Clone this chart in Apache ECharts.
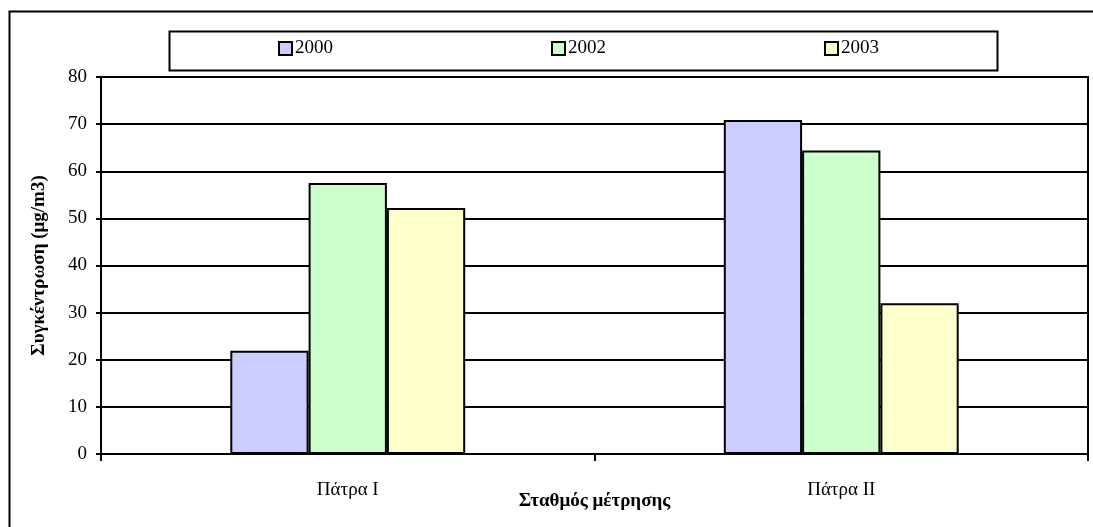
<!DOCTYPE html>
<html>
<head>
<meta charset="utf-8">
<script src="https://cdn.jsdelivr.net/npm/echarts@6/dist/echarts.min.js"></script>
<style>html,body{margin:0;padding:0;background:#fff}#c{width:1093px;height:527px}</style>
</head>
<body>
<div id="c"></div>
<script>
const categories = ['Πάτρα Ι', 'Πάτρα ΙΙ'];
const seriesNames = ['2000', '2002', '2003'];
const values2000 = [21.9, 70.9];
const values2002 = [57.5, 64.4];
const values2003 = [52.2, 32.0];
const colors = ['#CCCCFF', '#CCFFCC', '#FFFFCC'];
const yTitle = 'Συγκέντρωση (μg/m3)';
const xTitle = 'Σταθμός μέτρησης';

const font = 'Liberation Serif';
const fs = 19;
const chart = echarts.init(document.getElementById('c'), null, {renderer: 'canvas'});
const data = [values2000, values2002, values2003];
chart.setOption({
  animation: false,
  backgroundColor: '#fff',
  textStyle: {fontFamily: font},
  graphic: [{
    type: 'rect', left: 7, top: 9, z: 100,
    shape: {width: 1200, height: 600},
    style: {fill: 'none', stroke: '#000', lineWidth: 2}
  }, {
    type: 'rect', left: 167, top: 29, z: 100,
    shape: {width: 828, height: 39},
    style: {fill: 'none', stroke: '#000', lineWidth: 2}
  }],
  legend: {
    top: 39, left: 278,
    padding: 0,
    itemGap: 218,
    itemWidth: 13, itemHeight: 13,
    icon: 'rect',
    textStyle: {fontFamily: font, fontSize: fs, color: '#000', padding: [0, 0, 0, -2]},
    data: seriesNames
  },
  grid: {left: 101, right: 5, top: 77, bottom: 73, show: true, borderColor: '#000', borderWidth: 2},
  xAxis: {
    type: 'category', data: categories,
    name: xTitle, nameLocation: 'middle', nameGap: 38, nameMoveOverlap: false,
    nameTextStyle: {fontFamily: font, fontSize: fs, fontWeight: 'bold', color: '#000'},
    axisLine: {lineStyle: {color: '#000', width: 2}},
    axisTick: {show: true, length: 7, lineStyle: {color: '#000', width: 2}},
    axisLabel: {margin: 27, fontFamily: font, fontSize: fs, color: '#000'}
  },
  yAxis: {
    type: 'value', min: 0, max: 80, interval: 10,
    name: yTitle, nameLocation: 'middle', nameGap: 52, nameMoveOverlap: false,
    nameTextStyle: {fontFamily: font, fontSize: fs, fontWeight: 'bold', color: '#000'},
    axisLine: {show: true, lineStyle: {color: '#000', width: 2}},
    axisTick: {show: true, length: 5, lineStyle: {color: '#000', width: 2}},
    axisLabel: {margin: 14, fontFamily: font, fontSize: fs, color: '#000'},
    splitLine: {show: true, lineStyle: {color: '#000', width: 2}}
  },
  series: seriesNames.map((n, i) => ({
    name: n, type: 'bar', data: data[i],
    barGap: '0%', barCategoryGap: '52.4%',
    itemStyle: {color: colors[i], borderColor: '#000', borderWidth: 2}
  }))
});
</script>
</body>
</html>
